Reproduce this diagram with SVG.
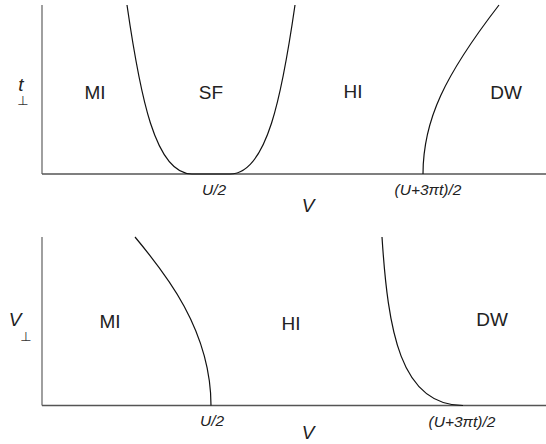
<svg xmlns="http://www.w3.org/2000/svg" width="546" height="444" viewBox="0 0 546 444">
<style>
.lbl{font-family:"Liberation Sans",Arial,sans-serif;font-size:19px;fill:#222;text-anchor:middle}
.perp{font-family:"DejaVu Sans","Liberation Sans",sans-serif;font-size:13px;fill:#333;text-anchor:middle}
.it{font-family:"Liberation Sans",Arial,sans-serif;font-style:italic;fill:#222;text-anchor:middle}
.tick{font-size:15.5px}
.ax{font-size:19px}
.vax{stroke:#888;stroke-width:1.6;fill:none}
.hax{stroke:#555;stroke-width:1.4;fill:none}
.cv{stroke:#111;stroke-width:1.2;fill:none}
</style>
<rect width="546" height="444" fill="#fff"/>
<g id="top-axes">
<line class="vax" x1="42" y1="5" x2="42" y2="174"/>
<line class="hax" x1="42" y1="174" x2="546" y2="174"/>
<text class="it ax" x="21" y="91">t</text>
<text class="perp" x="23" y="105">⊥</text>
<text class="it tick" x="214" y="195">U/2</text>
<text class="it tick" x="428" y="195">(U+3πt)/2</text>
<text class="it ax" x="308" y="212">V</text>
</g>
<g id="top-regions">
<text class="lbl" x="95" y="99">MI</text>
<text class="lbl" x="211" y="99">SF</text>
<text class="lbl" x="353" y="98">HI</text>
<text class="lbl" x="506" y="99">DW</text>
</g>
<g id="top-boundaries">
<path class="cv" d="M127,5 C140,95 155,174 192,174 L230,174 C267,174 282,95 295,5"/>
<path class="cv" d="M423,174 C423,120 445,75 499,5"/>
</g>
<g id="bottom-axes">
<line class="vax" x1="42" y1="237" x2="42" y2="405.5"/>
<line class="hax" x1="42" y1="405.5" x2="546" y2="405.5"/>
<text class="it ax" x="15" y="326">V</text>
<text class="perp" x="26" y="341">⊥</text>
<text class="it tick" x="212" y="426">U/2</text>
<text class="it tick" x="462" y="427">(U+3πt)/2</text>
<text class="it ax" x="308" y="439">V</text>
</g>
<g id="bottom-regions">
<text class="lbl" x="110" y="328">MI</text>
<text class="lbl" x="291" y="330">HI</text>
<text class="lbl" x="492" y="326">DW</text>
</g>
<g id="bottom-boundaries">
<path class="cv" d="M135,237 C165,273 211,330 211,405.5"/>
<path class="cv" d="M382,237 C388,330 400,405.5 463,405.5"/>
</g>
</svg>
